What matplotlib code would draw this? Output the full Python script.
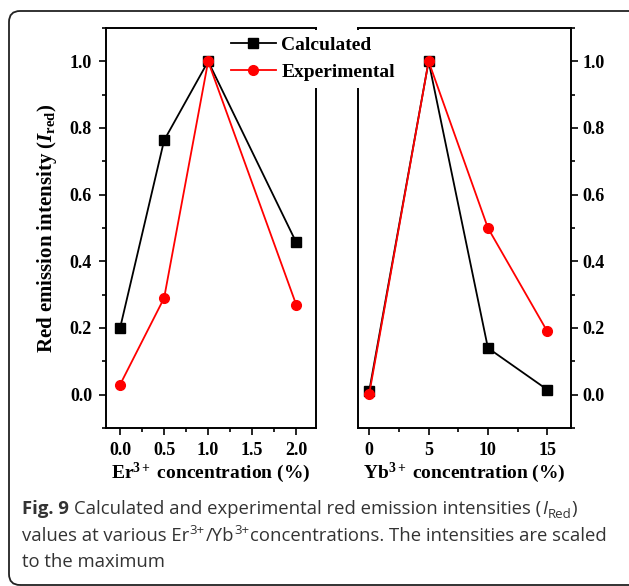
import matplotlib
matplotlib.use("Agg")
import matplotlib.pyplot as plt
from matplotlib.patches import FancyBboxPatch
from matplotlib.transforms import IdentityTransform
from matplotlib.ticker import MultipleLocator, FormatStrFormatter

er_conc = [0.0, 0.5, 1.0, 2.0]
er_calc = [0.20, 0.763, 1.0, 0.457]
er_exp = [0.03, 0.29, 1.0, 0.27]

yb_conc = [0, 5, 10, 15]
yb_calc = [0.012, 1.0, 0.14, 0.015]
yb_exp = [0.003, 1.0, 0.50, 0.19]

W, H = 629, 586

plt.rcParams["font.family"] = "Liberation Serif"
plt.rcParams["font.weight"] = "bold"
plt.rcParams["axes.labelweight"] = "bold"
plt.rcParams["mathtext.fontset"] = "custom"
plt.rcParams["mathtext.rm"] = "Liberation Serif:bold"
plt.rcParams["mathtext.bf"] = "Liberation Serif:bold"
plt.rcParams["mathtext.it"] = "Liberation Serif:italic:bold"


def fx(px):
    return px / W


def fy(py):
    return 1 - py / H


fig = plt.figure(figsize=(W / 100, H / 100), dpi=100)

ax1 = fig.add_axes([fx(106), fy(428), fx(316) - fx(106), fy(28) - fy(428)])
ax2 = fig.add_axes([fx(358), fy(428), fx(571) - fx(358), fy(28) - fy(428)])

for ax, x, c, e in [(ax1, er_conc, er_calc, er_exp), (ax2, yb_conc, yb_calc, yb_exp)]:
    ax.plot(x, c, color="black", lw=1.3, marker="s", ms=6.5, label="Calculated")
    ax.plot(x, e, color="red", lw=1.3, marker="o", ms=7, label="Experimental")
    ax.set_ylim(-0.1, 1.1)
    ax.yaxis.set_major_locator(MultipleLocator(0.2))
    ax.yaxis.set_minor_locator(MultipleLocator(0.1))
    ax.yaxis.set_major_formatter(FormatStrFormatter("%.1f"))
    for s in ax.spines.values():
        s.set_linewidth(1.4)
    ax.tick_params(which="both", direction="out", width=1.2, labelsize=13)
    ax.tick_params(which="major", length=5)
    ax.tick_params(which="minor", length=3)
    ax.tick_params(axis="x", pad=5)

ax1.set_xlim(-0.16, 2.225)
ax1.xaxis.set_major_locator(MultipleLocator(0.5))
ax1.xaxis.set_minor_locator(MultipleLocator(0.25))
ax1.xaxis.set_major_formatter(FormatStrFormatter("%.1f"))
ax1.tick_params(axis="y", pad=5)
ax1.set_xlabel("Er$^{3+}$ concentration (%)", fontsize=14, labelpad=1)
ax1.set_ylabel(r"Red emission intensity ($I_{\mathrm{red}}$)", fontsize=15, labelpad=8)

ax2.set_xlim(-0.95, 17.0)
ax2.xaxis.set_major_locator(MultipleLocator(5))
ax2.xaxis.set_minor_locator(MultipleLocator(2.5))
ax2.xaxis.set_major_formatter(FormatStrFormatter("%d"))
ax2.yaxis.tick_right()
ax2.tick_params(axis="y", pad=3.5)
ax2.set_xlabel("Yb$^{3+}$ concentration (%)", fontsize=14, labelpad=1)

handles, labels = ax1.get_legend_handles_labels()
leg = fig.legend(handles, labels, loc="upper left", bbox_to_anchor=(fx(224), fy(29.5)),
                 borderaxespad=0, borderpad=0.35, handlelength=2.3, handletextpad=0.3,
                 labelspacing=0.5, fontsize=14, frameon=True, facecolor="white",
                 edgecolor="none", framealpha=1, fancybox=False)

border = FancyBboxPatch((9, 1), 640, 574, boxstyle="round,pad=0,rounding_size=11",
                        transform=IdentityTransform(), fill=False, edgecolor="#222222",
                        lw=1.3)
fig.patches.append(border)

# caption
cap_font = "Open Sans"
cap_col = "#333333"
cap_size = 13.3
renderer = fig.canvas.get_renderer()


def put(x, y, s, **kw):
    t = fig.text(fx(x), fy(y), s, family=cap_font, color=cap_col, va="baseline", ha="left", **kw)
    return x + t.get_window_extent(renderer).width


x = put(22, 514, "Fig. 9", size=cap_size, weight="bold")
x = put(x + 5, 514, "Calculated and experimental red emission intensities (", size=cap_size, weight="normal")
x = put(x + 1, 514, "I", size=cap_size, weight="normal", style="italic")
x = put(x + 0.5, 518, "Red", size=9.5, weight="normal")
put(x + 0.5, 514, ")", size=cap_size, weight="normal")

x = put(22, 541, "values at various Er", size=cap_size, weight="normal")
x = put(x + 0.5, 534, "3+", size=9.5, weight="normal")
x = put(x + 0.5, 541, "/Yb", size=cap_size, weight="normal")
x = put(x + 0.5, 534, "3+", size=9.5, weight="normal")
put(x + 0.5, 541, "concentrations. The intensities are scaled", size=cap_size, weight="normal")

put(22, 567, "to the maximum", size=cap_size, weight="normal")

fig.savefig("out.png", dpi=100)
